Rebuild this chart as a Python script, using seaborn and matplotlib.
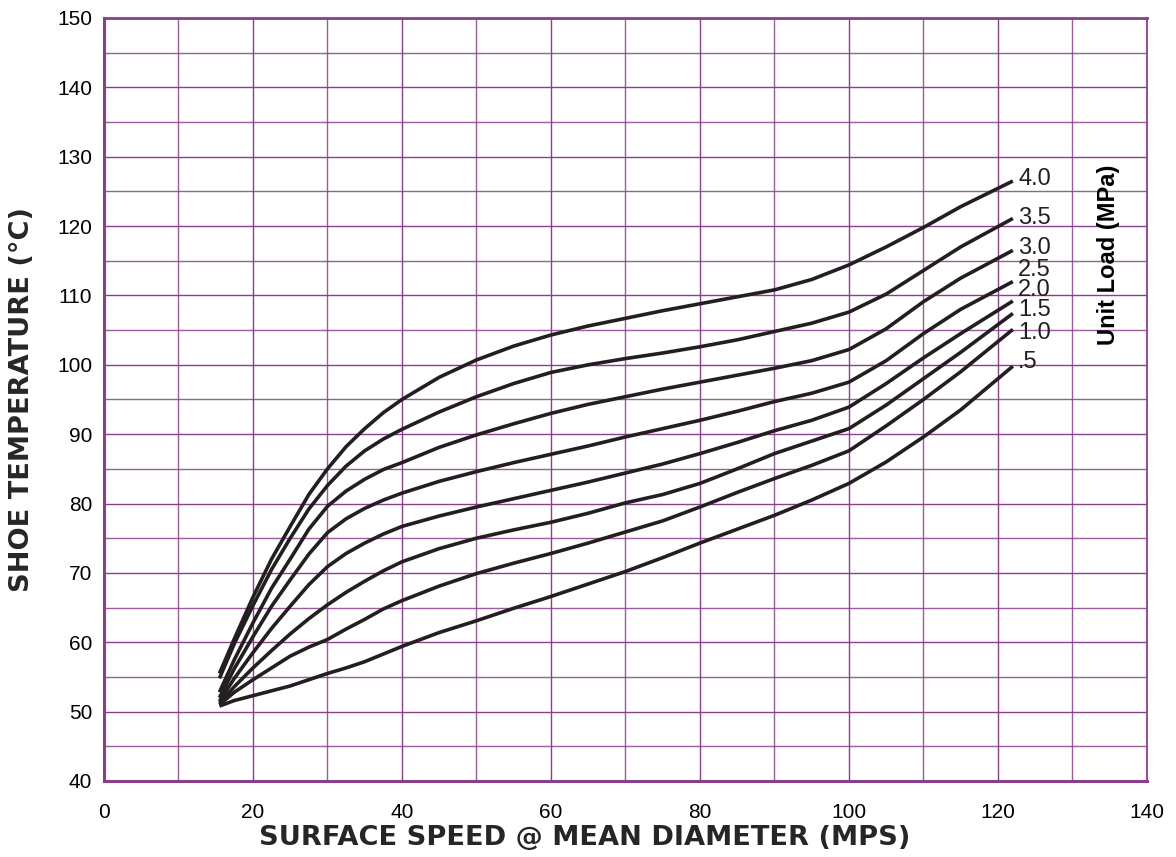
import numpy as np
import pandas as pd
import matplotlib
matplotlib.use('Agg')
import matplotlib.pyplot as plt
from matplotlib.ticker import MultipleLocator
import seaborn as sns

# surface speed (MPS) at which the curves were read
speed = [15.5, 17.5, 20, 22.5, 25, 27.5, 30, 32.5, 35, 37.5, 40, 45, 50, 55,
         60, 65, 70, 75, 80, 85, 90, 95, 100, 105, 110, 115, 122]

# shoe temperature (C) for each unit load (MPa)
load_labels = ['4.0', '3.5', '3.0', '2.5', '2.0', '1.5', '1.0', '.5']
temp_40 = [55.5, 60.5, 66.5, 72.0, 76.7, 81.3, 85.0, 88.2, 90.8, 93.1, 95.0, 98.2, 100.7, 102.7,
           104.3, 105.6, 106.7, 107.8, 108.8, 109.8, 110.8, 112.3, 114.4, 117.0, 119.8, 122.8, 126.5]
temp_35 = [54.8, 59.8, 65.3, 70.5, 75.0, 79.2, 82.6, 85.4, 87.6, 89.3, 90.7, 93.2, 95.4, 97.3,
           98.9, 100.0, 100.9, 101.7, 102.6, 103.6, 104.8, 106.0, 107.6, 110.2, 113.6, 117.0, 121.1]
temp_30 = [52.8, 57.5, 62.8, 67.8, 72.0, 76.3, 79.6, 81.8, 83.5, 84.9, 85.9, 88.1, 89.9, 91.5,
           93.0, 94.3, 95.4, 96.5, 97.5, 98.5, 99.5, 100.6, 102.2, 105.2, 109.1, 112.5, 116.5]
temp_25 = [52.0, 56.2, 60.8, 65.2, 69.0, 72.7, 75.8, 77.8, 79.3, 80.5, 81.5, 83.2, 84.6, 85.9,
           87.1, 88.3, 89.6, 90.8, 92.0, 93.3, 94.7, 95.9, 97.5, 100.6, 104.5, 108.0, 112.0]
temp_20 = [51.5, 54.8, 58.5, 62.0, 65.2, 68.3, 70.9, 72.8, 74.3, 75.6, 76.7, 78.2, 79.5, 80.7,
           81.9, 83.1, 84.4, 85.7, 87.2, 88.8, 90.5, 92.0, 93.9, 97.3, 101.0, 104.5, 109.2]
temp_15 = [51.2, 53.6, 56.3, 58.8, 61.2, 63.4, 65.4, 67.2, 68.8, 70.3, 71.6, 73.5, 75.0, 76.2,
           77.3, 78.6, 80.1, 81.3, 82.9, 85.0, 87.2, 89.0, 90.8, 94.2, 98.0, 101.8, 107.4]
temp_10 = [51.0, 52.8, 54.6, 56.3, 58.0, 59.3, 60.4, 61.9, 63.3, 64.8, 66.0, 68.1, 69.9, 71.4,
           72.8, 74.3, 75.9, 77.5, 79.5, 81.6, 83.6, 85.5, 87.6, 91.2, 95.0, 99.0, 105.1]
temp_05 = [50.8, 51.6, 52.3, 53.0, 53.7, 54.6, 55.5, 56.3, 57.2, 58.3, 59.4, 61.4, 63.1, 64.9,
           66.6, 68.4, 70.2, 72.2, 74.3, 76.3, 78.3, 80.5, 82.9, 86.0, 89.6, 93.5, 99.8]

all_temps = [temp_40, temp_35, temp_30, temp_25, temp_20, temp_15, temp_10, temp_05]

rows = []
for lab, temps in zip(load_labels, all_temps):
    for s, t in zip(speed, temps):
        rows.append({'speed': s, 'temp': t, 'load': lab})
df = pd.DataFrame(rows)

sns.set_style('white')
plt.rcParams['font.family'] = ['Liberation Sans', 'DejaVu Sans']

purple = '#8a3f8a'
ink = '#231f20'

fig = plt.figure(figsize=(11.76, 8.57), dpi=100)
ax = fig.add_axes([0.0884, 0.0887, 0.8869, 0.8903])

sns.lineplot(data=df, x='speed', y='temp', hue='load', hue_order=load_labels,
             palette=[ink] * len(load_labels), linewidth=2.6, legend=False,
             sort=False, ax=ax)
for ln in ax.lines:
    ln.set_solid_joinstyle('round')
    ln.set_solid_capstyle('butt')

# label offsets so the texts sit like in the original
label_dy = [0.3, 0.1, 0.3, 1.7, 1.6, 0.5, -0.5, 0.6]
for lab, temps, dy in zip(load_labels, all_temps, label_dy):
    ax.text(speed[-1] + 0.7, temps[-1] + dy, lab, fontsize=17, color=ink,
            ha='left', va='center')

ax.text(134.8, 115.8, 'Unit Load (MPa)', rotation=90, fontsize=17,
        fontweight='bold', color='black', ha='center', va='center')

ax.set_xlim(0, 140)
ax.set_ylim(40, 150)
ax.xaxis.set_major_locator(MultipleLocator(20))
ax.xaxis.set_minor_locator(MultipleLocator(10))
ax.yaxis.set_major_locator(MultipleLocator(10))
ax.yaxis.set_minor_locator(MultipleLocator(5))
ax.grid(which='major', color=purple, linewidth=1.0)
ax.grid(which='minor', color=purple, linewidth=1.0, alpha=0.85)
ax.set_axisbelow(True)

for side in ['left', 'bottom', 'top', 'right']:
    ax.spines[side].set_color(purple)
    ax.spines[side].set_linewidth(1.3)
ax.spines['left'].set_linewidth(2.2)
ax.spines['bottom'].set_linewidth(2.2)
ax.spines['top'].set_linewidth(2.0)

ax.tick_params(axis='both', which='major', direction='out', width=1.3,
               color=purple, labelsize=15, labelcolor='black')
ax.tick_params(axis='y', which='major', length=5.5, pad=3)
ax.tick_params(axis='x', which='major', length=7, pad=9)
ax.tick_params(axis='both', which='minor', length=0)

label_font = dict(family=['DejaVu Sans'], size=19.6, weight='bold')
ax.set_xlabel('SURFACE SPEED @ MEAN DIAMETER (MPS)', fontdict=label_font)
ax.set_ylabel('SHOE TEMPERATURE (°C)', fontdict=label_font)
ax.xaxis.set_label_coords(0.461, -0.0747)
ax.yaxis.set_label_coords(-0.0786, 0.5)
ax.xaxis.label.set_va('center')
ax.yaxis.label.set_va('center')

fig.savefig('out.png', dpi=100)
